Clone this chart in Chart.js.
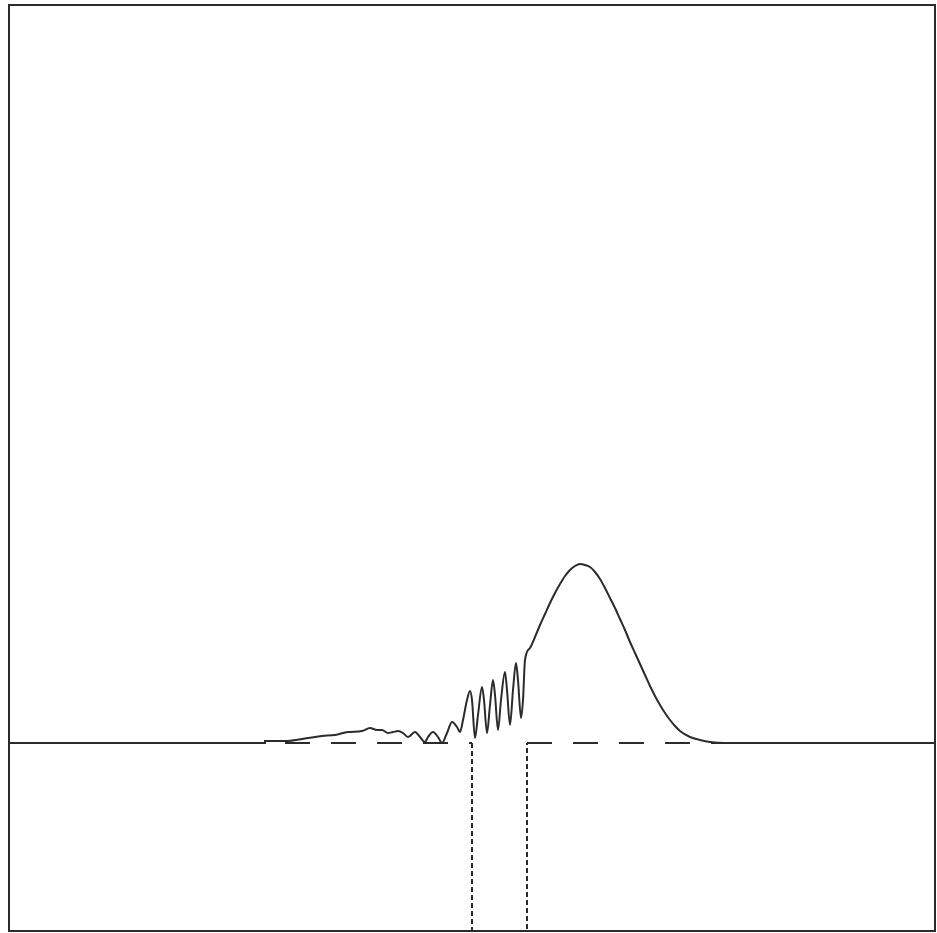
<!DOCTYPE html>
<html>
<head>
<meta charset="utf-8">
<script src="https://cdn.jsdelivr.net/npm/chart.js@4/dist/chart.umd.min.js"></script>
<style>
  html, body { margin: 0; padding: 0; background: #fff; }
  #wrap { width: 937px; height: 933px; }
</style>
</head>
<body>
<div id="wrap"><canvas id="waveChart"></canvas></div>
<script>
// wave packet |psi|^2 (x, height)
var waveX = [0, 256, 256, 276, 299, 313, 326, 339, 353, 361, 368, 373, 379, 384, 389, 394, 399, 406, 411, 416,
  419, 424, 429, 433, 438, 443, 448, 451, 454, 458, 461, 463, 466, 469, 473, 475, 478, 481, 484, 486,
  489, 492, 496, 498, 501, 504, 507, 509, 512, 514,
  516, 521, 526, 531, 536, 541, 546, 551, 556, 561, 566, 571, 576, 581, 586, 591, 596, 601, 606, 611,
  616, 621, 626, 631, 636, 641, 646, 651, 656, 661, 666, 671, 681, 691, 701, 716, 926];
var waveY = [188, 188, 190, 190, 193, 195, 196, 199, 200, 203, 201, 201, 198, 199, 200, 198, 194, 199, 194, 189,
  194, 199, 194, 188, 198, 209, 204, 199, 211, 231, 240, 231, 193, 216, 244, 231, 198, 226, 251, 236,
  201, 231, 259, 241, 206, 241, 268, 251, 213, 231,
  271, 283, 294, 306, 317, 328, 338, 347, 355, 361, 365, 367, 366, 364, 359, 352, 343, 333, 323, 312,
  301, 289, 278, 267, 256, 245, 235, 226, 218, 211, 205, 200, 194, 191, 189, 188, 188];

// square well potential
var wellX = [0, 463, 463, 518, 518, 926];
var wellY = [188, 188, -150, -150, 188, 188];

var ink = '#2b2b2b';

function pairs(xs, ys) {
  return xs.map(function (x, i) { return { x: x, y: ys[i] }; });
}

var frameAxis = function (pos, axis) {
  return {
    type: 'linear',
    position: pos,
    axis: axis,
    min: 0,
    max: 926,
    grid: { display: false, drawTicks: false },
    ticks: { display: false },
    border: { display: true, color: ink, width: 2 }
  };
};

var scales = {
  x: frameAxis('bottom', 'x'),
  y: frameAxis('left', 'y'),
  x2: frameAxis('top', 'x'),
  y2: frameAxis('right', 'y')
};

new Chart(document.getElementById('waveChart').getContext('2d'), {
  type: 'line',
  data: {
    datasets: [
      {
        label: 'wave',
        data: pairs(waveX, waveY),
        borderColor: ink,
        borderWidth: 2,
        pointRadius: 0,
        cubicInterpolationMode: 'monotone',
        fill: false
      },
      {
        label: 'well',
        data: pairs(wellX, wellY),
        borderColor: ink,
        borderWidth: 2,
        borderDash: [25, 21],
        pointRadius: 0,
        tension: 0,
        fill: false,
        segment: {
          // vertical walls are finely dashed, the floor level coarsely
          borderDash: function (ctx) {
            return ctx.p0.parsed.x === ctx.p1.parsed.x ? [5, 3] : [25, 21];
          }
        }
      }
    ]
  },
  options: {
    responsive: true,
    maintainAspectRatio: false,
    animation: false,
    layout: { padding: { left: 9, top: 5, right: 2, bottom: 2 } },
    plugins: { legend: { display: false }, tooltip: { enabled: false } },
    scales: scales
  }
});
</script>
</body>
</html>
